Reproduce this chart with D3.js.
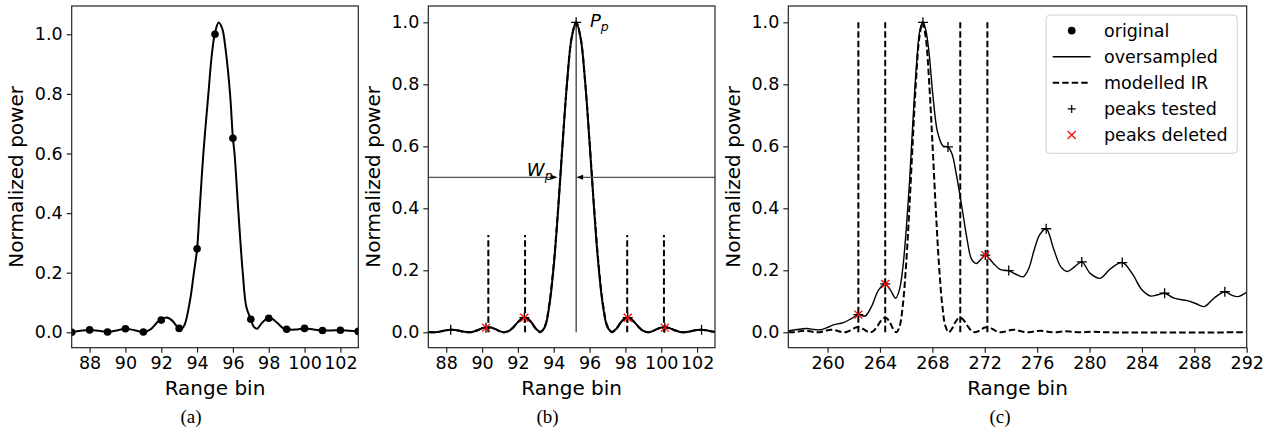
<!DOCTYPE html>
<html>
<head>
<meta charset="UTF-8" />
<title>Range bin peaks</title>
<script src="https://cdn.jsdelivr.net/npm/d3@7"></script>
<style>
  body { margin: 0; background: #fff; }
  svg { display: block; }
</style>
</head>
<body>
<script>
// ---- data ----
const yTicks = [0, 0.2, 0.4, 0.6, 0.8, 1.0];
const xTicksAB = [88, 90, 92, 94, 96, 98, 100, 102];
const xTicksC = [260, 264, 268, 272, 276, 280, 284, 288, 292];

// (a) original samples
const binsA = [87, 88, 89, 90, 91, 92, 93, 94, 95, 96, 97, 98, 99, 100, 101, 102, 103];
const origA = [0.0, 0.008, 0.001, 0.012, 0.001, 0.041, 0.013, 0.28, 1.0, 0.651, 0.044, 0.047, 0.01, 0.013, 0.006, 0.007, 0.003];
// (a) oversampled curve [bin, power]
const overA = [
  [87.0, 0.0], [87.5, 0.005], [88.0, 0.008], [88.5, 0.005], [89.0, 0.001], [89.5, 0.006],
  [90.0, 0.012], [90.5, 0.007], [91.0, 0.001], [91.4, 0.01], [91.8, 0.035], [92.0, 0.042],
  [92.3, 0.05], [92.6, 0.04], [92.9, 0.018], [93.1, 0.01], [93.3, 0.025], [93.6, 0.105],
  [93.8, 0.19], [94.0, 0.28], [94.13, 0.4], [94.35, 0.6], [94.63, 0.8], [94.82, 0.93],
  [95.0, 1.005], [95.2, 1.04], [95.4, 1.02], [95.6, 0.945], [95.84, 0.8], [96.0, 0.651],
  [96.09, 0.6], [96.31, 0.4], [96.55, 0.2], [96.75, 0.085], [97.0, 0.044], [97.15, 0.02],
  [97.35, 0.012], [97.6, 0.03], [97.9, 0.047], [98.0, 0.048], [98.2, 0.045], [98.5, 0.03],
  [98.8, 0.014], [99.0, 0.01], [99.5, 0.009], [100.0, 0.013], [100.5, 0.009], [101.0, 0.006],
  [101.5, 0.006], [102.0, 0.007], [102.5, 0.005], [103.0, 0.003]
];

// (b) oversampled and modelled IR, sampled every quarter bin from 87 to 103
const binsB = d3.range(0, 65).map(i => 87 + i * 0.25);
const irB = [
  0.0009, 0, 0.0010, 0.0036, 0.0066, 0.0083, 0.0076, 0.0048, 0.0015, 0, 0.0018, 0.0067,
  0.0126, 0.0162, 0.0153, 0.0100, 0.0033, 0, 0.0042, 0.0165, 0.0328, 0.0450, 0.0457, 0.0324,
  0.0117, 0, 0.0194, 0.0901, 0.2214, 0.4053, 0.6150, 0.8106, 0.9497, 1.0, 0.9497, 0.8106,
  0.6150, 0.4053, 0.2214, 0.0901, 0.0194, 0, 0.0117, 0.0324, 0.0457, 0.0450, 0.0328, 0.0165,
  0.0042, 0, 0.0033, 0.0100, 0.0153, 0.0162, 0.0126, 0.0067, 0.0018, 0, 0.0015, 0.0048,
  0.0076, 0.0083, 0.0066, 0.0036, 0.0010
];
const overB = [
  0.0009, 0, 0.0010, 0.0036, 0.0066, 0.0083, 0.0076, 0.0048, 0.0015, 0, 0.0018, 0.0067,
  0.0126, 0.0162, 0.0153, 0.0100, 0.0033, 0, 0.0042, 0.0165, 0.0328, 0.0450, 0.0457, 0.0324,
  0.0117, 0.002, 0.016, 0.084, 0.213, 0.398, 0.612, 0.809, 0.9497, 1.0, 0.9497, 0.809,
  0.612, 0.398, 0.213, 0.084, 0.016, 0.002, 0.0117, 0.0324, 0.0457, 0.0450, 0.0328, 0.0165,
  0.0042, 0, 0.0033, 0.0100, 0.0153, 0.0162, 0.0126, 0.0067, 0.0018, 0, 0.0015, 0.0048,
  0.0076, 0.0083, 0.0066, 0.0036, 0.0010
];
const testedB = [88.25, 90.22, 92.36, 95.25, 98.13, 100.2, 102.25];
const testedBVal = [0.008, 0.015, 0.047, 1.0, 0.047, 0.015, 0.008];
const deletedB = [90.22, 92.36, 98.13, 100.2];
const deletedBVal = [0.015, 0.047, 0.047, 0.015];
const sideB = [90.35, 92.4, 98.1, 100.15];
const sideBTop = 0.314;
const peakB = 95.25, halfB = 94.22;

// (c) oversampled curve [bin, power]
const overC = [
  [257.0, 0.004], [257.7, 0.009], [258.4, 0.012], [259.0, 0.009], [259.45, 0.008], [260.0, 0.016],
  [260.45, 0.024], [261.2, 0.031], [261.85, 0.045], [262.35, 0.057], [262.85, 0.052], [263.35, 0.083],
  [263.9, 0.137], [264.4, 0.156], [264.8, 0.136], [265.2, 0.11], [265.5, 0.14], [265.75, 0.21],
  [266.0, 0.33], [266.25, 0.48], [266.5, 0.67], [266.8, 0.87], [267.05, 0.975], [267.28, 1.0],
  [267.5, 0.975], [267.75, 0.9], [268.05, 0.76], [268.4, 0.645], [268.8, 0.602], [269.19, 0.598],
  [269.5, 0.575], [269.85, 0.505], [270.25, 0.405], [270.65, 0.3], [271.0, 0.235], [271.35, 0.222],
  [271.7, 0.235], [272.04, 0.249], [272.65, 0.223], [273.2, 0.202], [273.83, 0.199], [274.35, 0.188],
  [274.93, 0.179], [275.35, 0.205], [275.75, 0.262], [276.2, 0.315], [276.69, 0.334], [277.25, 0.27],
  [277.8, 0.212], [278.3, 0.196], [278.85, 0.211], [279.41, 0.227], [280.05, 0.19], [280.8, 0.174],
  [281.6, 0.205], [282.5, 0.225], [283.25, 0.19], [284.0, 0.137], [284.65, 0.117], [285.2, 0.121],
  [285.73, 0.126], [286.45, 0.11], [287.45, 0.102], [288.1, 0.093], [288.75, 0.083], [289.5, 0.11],
  [290.33, 0.131], [290.85, 0.12], [291.3, 0.115], [292.0, 0.129]
];
// (c) modelled IR, quarter bins from 257 to 277.25, then the flat tail
const binsC = d3.range(0, 82).map(i => 257 + i * 0.25);
const irC = [
  0.0006, 0, 0.0006, 0.0022, 0.0040, 0.0050, 0.0045, 0.0028, 0.0009, 0, 0.0010, 0.0036,
  0.0066, 0.0083, 0.0076, 0.0048, 0.0015, 0, 0.0018, 0.0067, 0.0126, 0.0162, 0.0153, 0.0100,
  0.0033, 0, 0.0042, 0.0165, 0.0328, 0.0450, 0.0457, 0.0324, 0.0117, 0, 0.0194, 0.0901,
  0.2214, 0.4053, 0.6150, 0.8106, 0.9497, 1.0, 0.9497, 0.8106, 0.6150, 0.4053, 0.2214, 0.0901,
  0.0194, 0, 0.0117, 0.0324, 0.0457, 0.0450, 0.0328, 0.0165, 0.0042, 0, 0.0033, 0.0100,
  0.0153, 0.0162, 0.0126, 0.0067, 0.0018, 0, 0.0015, 0.0048, 0.0076, 0.0083, 0.0066, 0.0036,
  0.0010, 0, 0.0009, 0.0028, 0.0045, 0.0050, 0.0040, 0.0022, 0.0006, 0
];
const irCTail = [[278.25, 0.003], [279.25, 0], [280.25, 0.002], [281.25, 0], [292, 0]];
const testedC = [262.35, 264.4, 267.28, 269.19, 272.04, 273.83, 276.69, 279.41, 282.5, 285.73, 290.33];
const testedCVal = [0.057, 0.156, 1.0, 0.598, 0.249, 0.199, 0.334, 0.227, 0.225, 0.126, 0.131];
const deletedC = [262.35, 264.4, 272.04];
const deletedCVal = [0.057, 0.156, 0.249];
const sideC = [262.35, 264.4, 270.13, 272.2];
const sideCTop = 1.0;

const legendItems = ["original", "oversampled", "modelled IR", "peaks tested", "peaks deleted"];

// ---- drawing ----
const W = 1271, H = 432;
const FONT = "DejaVu Sans, sans-serif";
const DASH = "6.5,3";
const svg = d3.select("body").append("svg").attr("width", W).attr("height", H);
svg.append("rect").attr("width", W).attr("height", H).attr("fill", "#fff");

const plusPath = "M-5,0H5M0,-5V5";
const crossPath = "M-4,-4L4,4M-4,4L4,-4";

function panel(o) {
  const x = d3.scaleLinear().domain(o.xd).range([o.left, o.right]);
  const y = d3.scaleLinear().domain(o.yd).range([o.bottom, o.top]);
  const g = svg.append("g");

  g.append("clipPath").attr("id", "clip" + o.id)
    .append("rect").attr("x", o.left).attr("y", o.top)
    .attr("width", o.right - o.left).attr("height", o.bottom - o.top);
  const plot = g.append("g").attr("clip-path", `url(#clip${o.id})`);

  const xa = g.append("g").attr("transform", `translate(0,${o.bottom})`)
    .call(d3.axisBottom(x).tickValues(o.xt).tickSize(5).tickSizeOuter(0).tickPadding(4).tickFormat(d3.format("d")));
  const ya = g.append("g").attr("transform", `translate(${o.left},0)`)
    .call(d3.axisLeft(y).tickValues(yTicks).tickSize(5).tickSizeOuter(0).tickPadding(4).tickFormat(d3.format(".1f")));
  [xa, ya].forEach(a => {
    a.attr("font-family", FONT).attr("font-size", 17.5);
    a.select(".domain").remove();
    a.selectAll(".tick line").attr("stroke", "#222").attr("stroke-width", 1.2);
    a.selectAll(".tick text").attr("fill", "#000");
  });

  g.append("rect").attr("x", o.left).attr("y", o.top)
    .attr("width", o.right - o.left).attr("height", o.bottom - o.top)
    .attr("fill", "none").attr("stroke", "#222").attr("stroke-width", 1.2);

  g.append("text").attr("x", (o.left + o.right) / 2).attr("y", 395)
    .attr("text-anchor", "middle").attr("font-family", FONT).attr("font-size", 20)
    .text("Range bin");
  g.append("text")
    .attr("transform", `translate(${o.left - 48.7},${(o.top + o.bottom) / 2}) rotate(-90)`)
    .attr("text-anchor", "middle").attr("font-family", FONT).attr("font-size", 20)
    .text("Normalized power");
  g.append("text").attr("x", o.cap).attr("y", 423)
    .attr("text-anchor", "middle").attr("font-family", "Liberation Serif, serif").attr("font-size", 19)
    .text(o.label);

  return { x, y, plot, g };
}

const line = (x, y) => d3.line().x(d => x(d[0])).y(d => y(d[1])).curve(d3.curveCatmullRom.alpha(0.5));

function markers(p, bins, vals, path, color) {
  p.plot.append("g").selectAll("path").data(bins).join("path")
    .attr("transform", (d, i) => `translate(${p.x(d)},${p.y(vals[i])})`)
    .attr("d", path).attr("fill", "none").attr("stroke", color).attr("stroke-width", 1.3);
}

function sideLines(p, bins, top) {
  p.plot.append("g").selectAll("line").data(bins).join("line")
    .attr("x1", d => p.x(d)).attr("x2", d => p.x(d))
    .attr("y1", p.y(0)).attr("y2", p.y(top))
    .attr("stroke", "#000").attr("stroke-width", 2).attr("stroke-dasharray", DASH);
}

// (a)
const pa = panel({ id: "a", left: 71.7, right: 358.3, top: 6, bottom: 347.7, xd: [87, 103], yd: [-0.0517, 1.095], xt: xTicksAB, cap: 191, label: "(a)" });
pa.plot.append("path").datum(overA).attr("d", line(pa.x, pa.y))
  .attr("fill", "none").attr("stroke", "#000").attr("stroke-width", 2);
pa.plot.append("g").selectAll("circle").data(binsA).join("circle")
  .attr("cx", d => pa.x(d)).attr("cy", (d, i) => pa.y(origA[i])).attr("r", 3.8).attr("fill", "#000");

// (b)
const pb = panel({ id: "b", left: 428.3, right: 715, top: 6, bottom: 347.7, xd: [87, 103], yd: [-0.0497, 1.0526], xt: xTicksAB, cap: 547.5, label: "(b)" });
pb.plot.append("path").datum(binsB.map((b, i) => [b, overB[i]])).attr("d", line(pb.x, pb.y))
  .attr("fill", "none").attr("stroke", "#000").attr("stroke-width", 2);
pb.plot.append("path").datum(binsB.map((b, i) => [b, irB[i]])).attr("d", line(pb.x, pb.y))
  .attr("fill", "none").attr("stroke", "#000").attr("stroke-width", 2).attr("stroke-dasharray", DASH);
sideLines(pb, sideB, sideBTop);
markers(pb, testedB, testedBVal, plusPath, "#000");
markers(pb, deletedB, deletedBVal, crossPath, "#f00");
// half power line with arrows, and the peak line
{
  const yh = pb.y(0.5);
  pb.plot.append("line").attr("x1", pb.x(87)).attr("x2", pb.x(halfB) - 6).attr("y1", yh).attr("y2", yh)
    .attr("stroke", "#555").attr("stroke-width", 1.3);
  pb.plot.append("line").attr("x1", pb.x(peakB) + 6).attr("x2", pb.x(103)).attr("y1", yh).attr("y2", yh)
    .attr("stroke", "#555").attr("stroke-width", 1.3);
  const tl = pb.x(halfB), tr = pb.x(peakB);
  pb.plot.append("path").attr("d", `M${tl},${yh}L${tl - 7},${yh - 2.5}L${tl - 7},${yh + 2.5}Z`).attr("fill", "#000");
  pb.plot.append("path").attr("d", `M${tr},${yh}L${tr + 7},${yh - 2.5}L${tr + 7},${yh + 2.5}Z`).attr("fill", "#000");
  pb.plot.append("line").attr("x1", tr).attr("x2", tr).attr("y1", pb.y(0)).attr("y2", pb.y(1))
    .attr("stroke", "#000").attr("stroke-width", 1);

  const pt = pb.g.append("text").attr("x", pb.x(96.02)).attr("y", pb.y(0.984))
    .attr("font-family", FONT).attr("font-style", "italic").attr("font-size", 18);
  pt.append("tspan").text("P");
  pt.append("tspan").attr("font-size", 12.5).attr("dy", 3.5).text("p");
  const wt = pb.g.append("text").attr("x", pb.x(92.5)).attr("y", pb.y(0.503))
    .attr("font-family", FONT).attr("font-style", "italic").attr("font-size", 18);
  wt.append("tspan").text("W");
  wt.append("tspan").attr("font-size", 12.5).attr("dy", 3.5).text("p");
}

// (c)
const pc = panel({ id: "c", left: 788.3, right: 1246.7, top: 6, bottom: 347.7, xd: [257, 292], yd: [-0.0497, 1.0526], xt: xTicksC, cap: 1000, label: "(c)" });
pc.plot.append("path").datum(overC).attr("d", line(pc.x, pc.y))
  .attr("fill", "none").attr("stroke", "#000").attr("stroke-width", 1.4);
pc.plot.append("path").datum(binsC.map((b, i) => [b, irC[i]]).concat(irCTail)).attr("d", line(pc.x, pc.y))
  .attr("fill", "none").attr("stroke", "#000").attr("stroke-width", 2).attr("stroke-dasharray", DASH);
sideLines(pc, sideC, sideCTop);
markers(pc, testedC, testedCVal, plusPath, "#000");
markers(pc, deletedC, deletedCVal, crossPath, "#f00");

// legend
{
  const lg = svg.append("g");
  lg.append("rect").attr("x", 1046).attr("y", 15).attr("width", 191.3).attr("height", 138.3)
    .attr("rx", 4).attr("fill", "#fff").attr("fill-opacity", 0.85).attr("stroke", "#d0d0d0").attr("stroke-width", 1);
  const rows = lg.selectAll("g.row").data(legendItems).join("g")
    .attr("transform", (d, i) => `translate(0,${30.6 + i * 26.1})`);
  rows.append("text").attr("x", 1104).attr("y", 6.3)
    .attr("font-family", FONT).attr("font-size", 17.5).text(d => d);
  rows.filter((d, i) => i === 0).append("circle").attr("cx", 1071.7).attr("r", 3.9).attr("fill", "#000");
  rows.filter((d, i) => i === 1).append("line").attr("x1", 1052.7).attr("x2", 1090.7)
    .attr("stroke", "#000").attr("stroke-width", 1.5);
  rows.filter((d, i) => i === 2).append("line").attr("x1", 1052.7).attr("x2", 1090.7)
    .attr("stroke", "#000").attr("stroke-width", 2).attr("stroke-dasharray", DASH);
  rows.filter((d, i) => i === 3).append("path").attr("transform", "translate(1071.7,0)")
    .attr("d", "M-4,0H4M0,-4V4").attr("stroke", "#000").attr("stroke-width", 1.2);
  rows.filter((d, i) => i === 4).append("path").attr("transform", "translate(1071.7,0)")
    .attr("d", crossPath).attr("stroke", "#f00").attr("stroke-width", 1.2);
}
</script>
</body>
</html>
